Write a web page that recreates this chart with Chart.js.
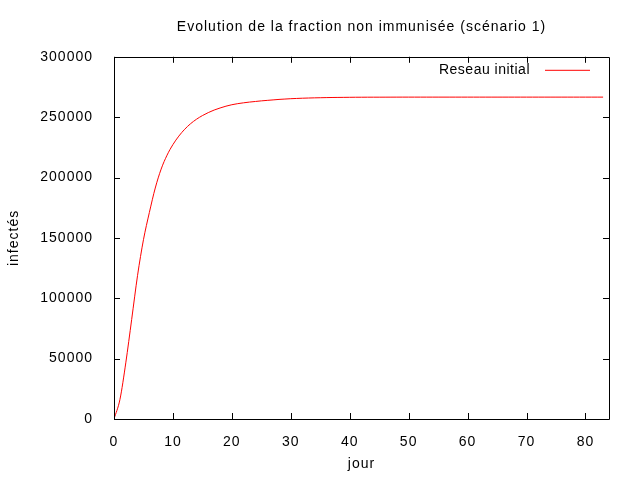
<!DOCTYPE html>
<html>
<head>
<meta charset="utf-8">
<script src="https://cdn.jsdelivr.net/npm/chart.js@4"></script>
<style>
html,body{margin:0;padding:0;background:#fff;}
#wrap{width:640px;height:480px;}
</style>
</head>
<body>
<div id="wrap"><canvas id="c" width="640" height="480"></canvas></div>
<script>
const chartTitle = "Evolution de la fraction non immunisée (scénario 1)";
const xTitle = "jour";
const yTitle = "infectés";
const seriesLabel = "Reseau initial";
const days = [];
for (let d = 0; d <= 83; d++) days.push(d);
const infected = [
  0, 16000, 46500, 82500, 119000, 148500, 171000, 191300, 207000, 218500,
  227300, 234300, 240000, 244600, 248300, 251300, 253800, 255900, 257600, 259100,
  260300, 261200, 261900, 262500, 263000, 263500, 263900, 264300, 264700, 265000,
  265300, 265500, 265700, 265850, 266000, 266100, 266200, 266300, 266350, 266400,
  266450, 266500, 266520, 266540, 266550, 266560, 266570, 266580, 266590, 266600,
  266600, 266600, 266600, 266600, 266600, 266600, 266600, 266600, 266600, 266600,
  266600, 266600, 266600, 266600, 266600, 266600, 266600, 266600, 266600, 266600,
  266600, 266600, 266600, 266600, 266600, 266600, 266600, 266600, 266600, 266600,
  266600, 266600, 266600, 266600
];
const xTicks = [0, 10, 20, 30, 40, 50, 60, 70, 80];
const yTicks = [0, 50000, 100000, 150000, 200000, 250000, 300000];

const FONT = "'Liberation Sans', Arial, sans-serif";

const spacingPlugin = {
  id: 'spacing',
  beforeLayout(chart) { chart.ctx.letterSpacing = '1px'; },
  beforeDraw(chart) { chart.ctx.letterSpacing = '1px'; }
};

const framePlugin = {
  id: 'frame',
  afterDraw(chart) {
    const ctx = chart.ctx;
    const a = chart.chartArea;
    const xs = chart.scales.x, ys = chart.scales.y;
    ctx.save();
    ctx.strokeStyle = '#000';
    ctx.lineWidth = 1;
    ctx.beginPath();
    ctx.rect(Math.round(a.left) + 0.5, Math.round(a.top) + 0.5, Math.round(a.right - a.left), Math.round(a.bottom - a.top));
    ctx.stroke();
    const tl = 6;
    ctx.beginPath();
    xTicks.forEach(v => {
      const px = Math.round(xs.getPixelForValue(v)) + 0.5;
      ctx.moveTo(px, a.bottom); ctx.lineTo(px, a.bottom - tl);
      ctx.moveTo(px, a.top); ctx.lineTo(px, a.top + tl);
    });
    yTicks.forEach(v => {
      const py = Math.round(ys.getPixelForValue(v)) + 0.5;
      ctx.moveTo(a.left, py); ctx.lineTo(a.left + tl, py);
      ctx.moveTo(a.right, py); ctx.lineTo(a.right - tl, py);
    });
    ctx.stroke();
    // key (legend) inside top-right
    const ds = chart.data.datasets[0];
    ctx.letterSpacing = '0.5px';
    ctx.font = "14px " + FONT;
    ctx.fillStyle = '#000';
    ctx.textAlign = 'right';
    ctx.textBaseline = 'middle';
    const ky = a.top + 13;
    ctx.fillText(ds.label, a.right - 79, ky);
    ctx.strokeStyle = ds.borderColor;
    ctx.beginPath();
    ctx.moveTo(a.right - 64, ky + 0.5);
    ctx.lineTo(a.right - 19, ky + 0.5);
    ctx.stroke();
    ctx.restore();
  }
};

new Chart(document.getElementById('c'), {
  type: 'line',
  data: {
    labels: days,
    datasets: [{
      label: seriesLabel,
      data: days.map((d, i) => ({x: d, y: infected[i]})),
      borderColor: '#ff0000',
      borderWidth: 1,
      pointRadius: 0,
      fill: false,
      cubicInterpolationMode: 'monotone'
    }]
  },
  options: {
    responsive: false,
    devicePixelRatio: 1,
    animation: false,
    layout: {padding: {left: 0, right: 31, top: 0, bottom: 0}},
    plugins: {
      legend: {display: false},
      tooltip: {enabled: false},
      title: {
        display: true,
        text: chartTitle,
        fullSize: false,
        color: '#000',
        font: {family: FONT, size: 14, weight: 'normal', lineHeight: 1.2},
        padding: {top: 19, bottom: 21}
      }
    },
    scales: {
      x: {
        type: 'linear',
        min: 0, max: 84,
        grid: {display: false},
        border: {display: false},
        afterBuildTicks(s) { s.ticks = xTicks.map(v => ({value: v})); },
        afterFit(s) { s.height = 61; },
        ticks: {
          color: '#000',
          font: {family: FONT, size: 14},
          padding: 7,
          maxRotation: 0,
          callback: v => String(v)
        },
        title: {
          display: true, text: xTitle, color: '#000',
          font: {family: FONT, size: 14, lineHeight: 1.2},
          padding: {top: 0, bottom: 7}
        }
      },
      y: {
        type: 'linear',
        min: 0, max: 300000,
        grid: {display: false},
        border: {display: false},
        afterBuildTicks(s) { s.ticks = yTicks.map(v => ({value: v})); },
        afterFit(s) { s.width = 114; },
        ticks: {
          color: '#000',
          font: {family: FONT, size: 14},
          padding: 13,
          callback: v => String(v)
        },
        title: {
          display: true, text: yTitle, color: '#000',
          font: {family: FONT, size: 14, lineHeight: 1.2},
          padding: {top: 6, bottom: 0}
        }
      }
    }
  },
  plugins: [spacingPlugin, framePlugin]
});
</script>
</body>
</html>
